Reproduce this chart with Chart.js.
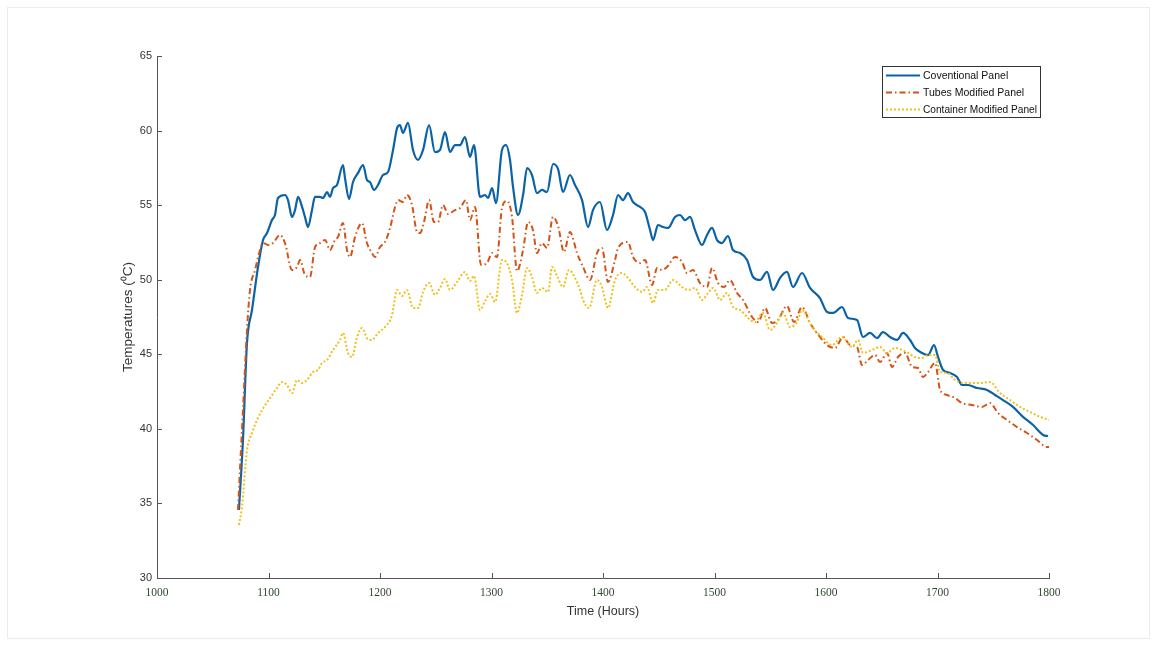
<!DOCTYPE html>
<html>
<head>
<meta charset="utf-8">
<title>Panel temperatures</title>
<script src="https://cdn.jsdelivr.net/npm/chart.js@4/dist/chart.umd.min.js"></script>
<style>
  html, body { margin: 0; padding: 0; background: #ffffff; }
  canvas { display: block; }
</style>
</head>
<body>
<canvas id="chart" width="1157" height="646"></canvas>
<script>
// Tick values on each axis
const xTickValues = [1000, 1100, 1200, 1300, 1400, 1500, 1600, 1700, 1800];
const yTickValues = [30, 35, 40, 45, 50, 55, 60, 65];

// Series names
const seriesNames = ['Coventional Panel', 'Tubes Modified Panel', 'Container Modified Panel'];

// Conventional panel: time (hours) and temperature (°C)
const conventionalHours = [1073.5,1077.1,1080.7,1085.2,1090.6,1095.1,1098.7,1103.1,1105.8,1108.5,1114.8,1117.5,1121.1,1123.8,1126.5,1130.1,1132.7,1135.4,1139.0,1141.7,1146.2,1148.9,1152.5,1155.2,1157.9,1161.4,1166.8,1168.6,1172.2,1175.8,1180.3,1184.8,1188.3,1191.0,1194.6,1198.2,1202.7,1207.2,1211.7,1215.3,1217.9,1220.6,1225.1,1229.6,1234.1,1238.6,1244.0,1249.3,1253.8,1258.3,1262.8,1267.3,1271.8,1276.2,1280.7,1284.3,1289.7,1294.2,1296.9,1300.5,1304.0,1309.4,1313.0,1316.6,1319.3,1323.8,1328.3,1331.9,1336.3,1340.8,1345.3,1349.8,1355.2,1359.7,1364.1,1370.4,1374.9,1381.2,1386.6,1391.0,1397.3,1403.6,1409.0,1413.5,1418.0,1422.4,1426.9,1433.2,1437.7,1442.2,1444.9,1449.3,1453.8,1458.3,1464.6,1469.1,1473.6,1478.1,1482.5,1488.8,1493.3,1497.8,1502.3,1506.7,1512.1,1516.6,1522.9,1529.2,1534.6,1540.8,1547.1,1552.5,1558.8,1565.0,1570.4,1578.5,1585.7,1594.6,1600.9,1606.3,1614.4,1619.8,1627.8,1633.2,1639.5,1645.8,1651.1,1657.4,1663.7,1669.1,1675.4,1679.8,1686.1,1691.5,1696.9,1700.5,1705.0,1711.2,1717.5,1722.0,1727.4,1735.5,1744.4,1751.6,1758.8,1767.7,1776.7,1785.7,1794.7,1799.1];
const conventionalTemps = [34.56,39.25,45.76,47.97,50.85,52.66,53.13,54.00,54.34,55.48,55.68,55.34,54.21,54.67,55.55,54.88,54.21,53.53,54.67,55.55,55.55,55.48,55.88,55.55,56.15,56.35,57.69,56.82,55.41,56.55,57.16,57.69,56.69,56.55,56.02,56.35,57.02,57.22,58.70,60.17,60.37,59.84,60.51,58.70,58.03,58.70,60.37,58.56,58.70,59.90,58.56,59.03,59.03,59.57,58.23,59.03,55.55,55.68,55.48,56.15,55.14,58.70,59.03,58.03,56.22,54.34,55.68,57.49,57.02,55.81,56.02,55.88,57.76,57.42,55.88,57.02,56.35,55.34,53.53,54.67,55.21,53.33,54.34,55.68,55.34,55.81,55.21,54.88,54.54,53.33,52.66,53.67,53.53,53.47,54.21,54.34,54.00,54.21,53.33,52.33,53.00,53.47,52.66,52.46,52.93,51.99,51.79,51.32,50.18,49.98,50.52,49.31,50.12,50.52,49.51,50.45,49.45,48.77,47.84,47.77,48.17,47.43,47.30,46.16,46.43,46.09,46.49,46.16,45.96,46.43,45.96,45.42,45.09,44.95,45.62,44.82,43.95,43.75,43.48,42.94,42.94,42.74,42.61,42.27,41.93,41.47,40.80,40.26,39.59,39.52];

// Tubes modified panel
const tubesHours = [1072.6,1077.1,1080.7,1083.4,1087.9,1092.4,1095.1,1099.6,1104.0,1110.3,1114.8,1121.1,1125.6,1128.3,1132.7,1137.2,1141.7,1146.2,1150.7,1155.2,1159.6,1162.3,1166.8,1170.4,1173.1,1177.6,1183.9,1188.3,1192.8,1195.5,1200.0,1204.5,1209.0,1213.5,1216.2,1220.6,1224.2,1228.7,1233.2,1235.9,1239.5,1244.0,1248.4,1252.0,1256.5,1261.0,1267.3,1271.8,1277.1,1280.7,1285.2,1290.6,1296.0,1300.5,1304.9,1309.4,1313.9,1318.4,1322.9,1328.3,1332.8,1337.2,1340.8,1345.3,1349.8,1355.2,1359.7,1365.0,1370.4,1376.7,1382.1,1388.4,1394.6,1399.1,1404.5,1410.8,1413.5,1422.4,1426.9,1433.2,1437.7,1444.0,1448.5,1452.9,1457.4,1464.6,1470.9,1475.4,1480.7,1487.0,1493.3,1497.8,1503.2,1508.5,1513.9,1520.2,1525.6,1533.7,1539.0,1545.3,1551.6,1557.0,1565.0,1571.3,1578.5,1585.7,1594.6,1600.9,1608.1,1615.3,1621.6,1627.8,1632.3,1637.7,1644.0,1648.5,1654.7,1659.2,1664.6,1670.9,1677.2,1682.5,1687.0,1691.5,1697.8,1702.3,1708.6,1715.7,1722.0,1731.0,1739.9,1747.1,1754.3,1762.4,1771.3,1780.3,1789.3,1798.2,1800.0];
const tubesTemps = [34.56,41.26,46.63,49.31,50.65,51.99,52.46,52.33,52.46,53.00,52.46,50.65,50.85,51.32,50.32,50.18,52.19,52.46,52.66,51.99,52.66,52.86,53.80,51.99,51.52,52.86,53.80,52.46,51.79,51.52,52.19,52.53,53.47,54.88,55.34,55.21,55.68,55.01,53.20,53.13,53.87,55.34,53.87,53.87,55.01,54.41,54.67,54.81,55.34,54.00,54.88,50.99,51.12,51.79,51.52,54.81,55.28,54.21,50.58,51.99,53.87,53.33,51.79,52.46,52.13,54.21,53.60,51.86,53.20,51.79,50.85,49.98,51.79,52.13,49.85,51.32,52.13,52.53,51.52,51.12,51.32,49.65,50.79,50.65,50.85,51.52,51.19,50.45,50.65,49.78,49.51,50.79,49.78,49.51,49.98,49.11,48.64,47.50,47.16,48.10,47.10,47.30,48.24,47.16,48.17,47.10,46.16,45.62,45.42,46.16,45.62,45.49,44.28,44.62,44.95,44.48,45.09,44.15,44.82,45.09,44.15,44.08,43.48,43.81,44.42,42.61,42.27,42.07,41.73,41.60,41.47,41.73,41.06,40.59,40.12,39.72,39.25,38.78,38.78];

// Container modified panel
const containerHours = [1073.5,1076.2,1080.7,1085.2,1089.7,1094.2,1101.4,1107.6,1112.1,1116.6,1121.1,1125.6,1130.1,1134.5,1139.9,1144.4,1148.0,1152.5,1157.9,1164.1,1166.8,1171.3,1174.9,1179.4,1183.9,1188.3,1192.8,1198.2,1204.5,1210.8,1215.3,1219.7,1224.2,1229.6,1234.1,1238.6,1244.0,1249.3,1253.8,1258.3,1262.8,1269.1,1276.2,1280.7,1284.3,1289.7,1294.2,1298.7,1303.2,1309.4,1313.9,1318.4,1322.9,1327.4,1331.9,1336.3,1340.8,1345.3,1350.7,1354.3,1358.8,1364.1,1369.5,1374.9,1379.4,1382.1,1387.5,1394.6,1399.1,1404.5,1410.8,1417.1,1422.4,1428.7,1435.0,1439.5,1444.9,1449.3,1455.6,1462.8,1470.9,1476.3,1482.5,1488.8,1494.2,1498.7,1505.0,1511.2,1516.6,1522.9,1530.1,1536.3,1543.5,1549.8,1556.1,1561.5,1567.7,1574.0,1578.5,1587.5,1596.4,1605.4,1614.4,1623.3,1628.7,1633.2,1641.3,1648.5,1654.7,1661.9,1668.2,1673.6,1679.8,1686.1,1691.5,1697.8,1702.3,1708.6,1715.7,1722.9,1731.0,1738.2,1747.1,1756.1,1765.1,1774.0,1783.0,1792.0,1800.0];
const containerTemps = [33.55,34.76,38.58,39.72,40.59,41.26,42.07,42.74,43.14,42.94,42.40,43.28,43.07,43.28,43.81,43.95,44.42,44.62,45.29,45.96,46.43,45.09,44.82,46.16,46.76,46.09,45.96,46.43,46.83,47.63,49.31,48.91,49.31,48.10,48.10,49.18,49.78,48.98,49.45,50.05,49.31,49.85,50.52,49.91,50.25,47.97,48.57,49.04,48.51,51.32,51.12,49.98,47.77,48.98,50.79,50.18,49.11,49.45,49.18,50.85,50.25,49.51,50.65,50.12,49.31,48.64,48.10,49.98,49.51,48.10,49.98,50.45,50.12,49.51,49.18,49.51,48.44,49.31,49.31,49.98,49.51,49.31,49.45,48.64,49.11,49.45,48.64,49.11,48.17,47.97,47.43,47.16,47.77,46.63,47.10,47.77,46.83,47.16,47.97,46.83,46.16,45.62,46.16,45.49,45.96,45.09,45.29,45.49,45.09,45.42,45.29,45.09,44.82,44.75,44.95,44.95,43.81,43.75,43.28,43.07,43.07,43.07,43.14,42.40,41.93,41.47,41.13,40.80,40.59];

function toPoints(hours, temps) {
  return hours.map((h, i) => ({ x: h, y: temps[i] }));
}

const sansFont = '"Liberation Sans", Arial, Helvetica, sans-serif';
const serifFont = '"Liberation Serif", "Times New Roman", serif';
const axisColor = '#555555';

// Light outer frame, inward tick marks and the boxed legend
const decorations = {
  id: 'decorations',
  beforeDraw(chart) {
    const c = chart.ctx;
    c.save();
    c.fillStyle = '#ffffff';
    c.fillRect(0, 0, chart.width, chart.height);
    c.strokeStyle = '#ececec';
    c.lineWidth = 1;
    c.strokeRect(7.5, 7.5, chart.width - 15, chart.height - 15);
    c.restore();
  },
  afterDraw(chart) {
    const c = chart.ctx;
    const xs = chart.scales.x, ys = chart.scales.y, area = chart.chartArea;
    c.save();
    c.strokeStyle = axisColor;
    c.lineWidth = 1;
    c.beginPath();
    yTickValues.forEach(v => {
      const py = Math.round(ys.getPixelForValue(v)) + 0.5;
      c.moveTo(area.left, py);
      c.lineTo(area.left + 5, py);
    });
    xTickValues.forEach(v => {
      const px = Math.round(xs.getPixelForValue(v)) + 0.5;
      c.moveTo(px, area.bottom);
      c.lineTo(px, area.bottom - 5);
    });
    c.stroke();

    // Legend box
    const bx = 882.5, by = 66.5, bw = 158, bh = 51;
    c.fillStyle = '#ffffff';
    c.fillRect(bx, by, bw, bh);
    c.strokeStyle = '#333333';
    c.strokeRect(bx, by, bw, bh);
    c.font = '10.5px ' + sansFont;
    c.textBaseline = 'middle';
    c.textAlign = 'left';
    chart.data.datasets.forEach((ds, i) => {
      const ly = 75.5 + i * 17;
      c.save();
      c.strokeStyle = ds.borderColor;
      c.lineWidth = ds.borderWidth;
      c.setLineDash(ds.borderDash || []);
      c.beginPath();
      c.moveTo(886, ly);
      c.lineTo(920, ly);
      c.stroke();
      c.restore();
      c.fillStyle = '#111111';
      c.fillText(ds.label, 923, ly + 0.5, 114);
    });
    c.restore();
  }
};

new Chart(document.getElementById('chart'), {
  type: 'line',
  data: {
    datasets: [
      {
        label: seriesNames[0],
        data: toPoints(conventionalHours, conventionalTemps),
        borderColor: '#0b63a6',
        borderWidth: 2.2,
        cubicInterpolationMode: 'monotone',
        order: 3
      },
      {
        label: seriesNames[1],
        data: toPoints(tubesHours, tubesTemps),
        borderColor: '#d45316',
        borderWidth: 2,
        borderDash: [6, 3, 1.5, 3],
        cubicInterpolationMode: 'monotone',
        order: 2
      },
      {
        label: seriesNames[2],
        data: toPoints(containerHours, containerTemps),
        borderColor: '#efc11a',
        borderWidth: 2,
        borderDash: [2, 2],
        cubicInterpolationMode: 'monotone',
        order: 1
      }
    ]
  },
  options: {
    responsive: false,
    animation: false,
    devicePixelRatio: 1,
    layout: { padding: { top: 56, right: 108, bottom: 0, left: 0 } },
    elements: { point: { radius: 0 } },
    plugins: { legend: { display: false }, tooltip: { enabled: false } },
    scales: {
      x: {
        type: 'linear',
        min: 1000,
        max: 1800,
        afterBuildTicks: s => { s.ticks = xTickValues.map(v => ({ value: v })); },
        afterFit: s => { s.height = 68; },
        grid: { drawOnChartArea: false, drawTicks: false },
        border: { display: true, color: axisColor, width: 1 },
        ticks: {
          padding: 8,
          autoSkip: false,
          maxRotation: 0,
          color: '#2e4a2e',
          font: { family: serifFont, size: 11.5 },
          callback: v => String(v)
        },
        title: {
          display: true,
          text: 'Time (Hours)',
          color: '#333333',
          font: { family: sansFont, size: 12.5 },
          padding: { top: 0, bottom: 27 }
        }
      },
      y: {
        type: 'linear',
        min: 30,
        max: 65,
        afterBuildTicks: s => { s.ticks = yTickValues.map(v => ({ value: v })); },
        afterFit: s => { s.width = 157; },
        grid: { drawOnChartArea: false, drawTicks: false },
        border: { display: true, color: axisColor, width: 1 },
        ticks: {
          padding: 5,
          color: '#333333',
          font: { family: sansFont, size: 11 },
          callback: v => String(v)
        },
        title: {
          display: true,
          text: 'Temperatures (\u2070C)',
          color: '#333333',
          font: { family: sansFont, size: 13.5 },
          padding: { top: 120, bottom: 0 }
        }
      }
    }
  },
  plugins: [decorations]
});
</script>
</body>
</html>
